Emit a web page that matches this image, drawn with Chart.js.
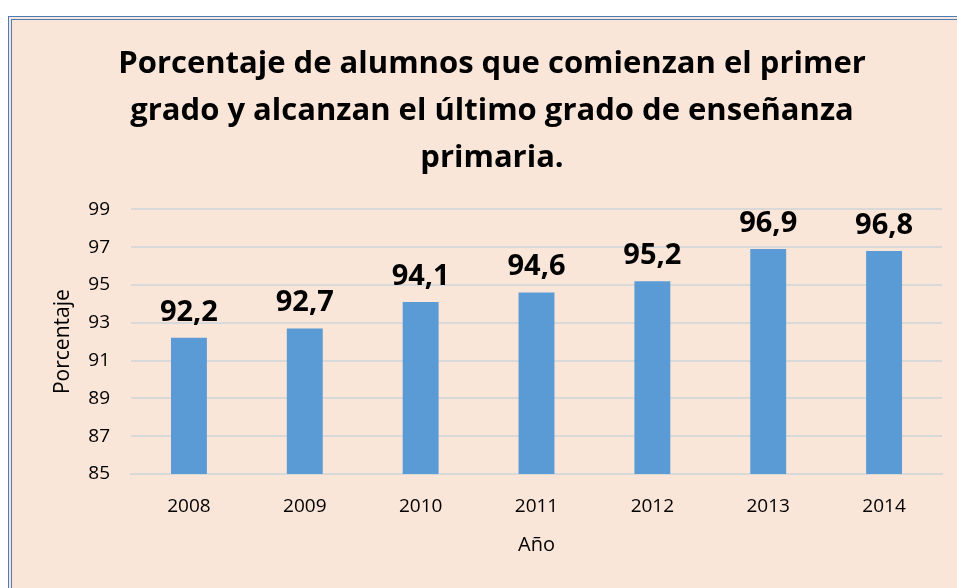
<!DOCTYPE html>
<html>
<head>
<meta charset="utf-8">
<script src="https://cdn.jsdelivr.net/npm/chart.js@4"></script>
<style>
  html, body { margin: 0; padding: 0; background: #fff; width: 957px; height: 588px; overflow: hidden; }
  #frame {
    position: absolute; left: 8px; top: 16px; width: 949px; height: 572px;
    background: #fae5d9;
    border-left: 4px double #4a7ebb; border-top: 4px double #4a7ebb;
    box-sizing: border-box;
  }
  #wrap { position: absolute; left: 12px; top: 20px; width: 945px; height: 568px; }
</style>
</head>
<body>
<div id="frame"></div>
<div id="wrap"><canvas id="chart"></canvas></div>
<script>
// data
const years = ["2008", "2009", "2010", "2011", "2012", "2013", "2014"];
const percentages = [92.2, 92.7, 94.1, 94.6, 95.2, 96.9, 96.8];
const titleLines = [
  "Porcentaje de alumnos que comienzan el primer",
  "grado y alcanzan el último grado de enseñanza",
  "primaria."
];

const FONT = "'Open Sans', 'Noto Sans', sans-serif";

// values above bars, comma decimals
const barLabels = {
  id: "barLabels",
  afterDatasetsDraw(chart) {
    const ctx = chart.ctx;
    const meta = chart.getDatasetMeta(0);
    ctx.save();
    ctx.font = "bold 29px " + FONT;
    ctx.fillStyle = "#000";
    ctx.textAlign = "center";
    ctx.textBaseline = "alphabetic";
    meta.data.forEach((bar, i) => {
      ctx.fillText(percentages[i].toFixed(1).replace(".", ","), bar.x, bar.y - 17);
    });
    ctx.restore();
  }
};

new Chart(document.getElementById("chart"), {
  type: "bar",
  data: {
    labels: years,
    datasets: [{
      data: percentages,
      backgroundColor: "#5b9bd5",
      categoryPercentage: 1,
      barPercentage: 0.31
    }]
  },
  options: {
    responsive: true,
    maintainAspectRatio: false,
    animation: false,
    layout: { padding: { left: 30, right: 15, top: 0, bottom: 10 } },
    plugins: {
      legend: { display: false },
      tooltip: { enabled: false },
      title: {
        display: true,
        text: titleLines,
        color: "#000",
        font: { family: FONT, size: 31, weight: "bold", lineHeight: 1.53 },
        padding: { top: 20, bottom: 27 }
      }
    },
    scales: {
      x: {
        afterFit(scale) { scale.height = 104; },
        grid: { display: false, drawTicks: false },
        border: { color: "#d9d9d9", width: 2 },
        ticks: { color: "#000", font: { family: FONT, size: 19 }, padding: 21 },
        title: { display: true, text: "Año", color: "#000", font: { family: FONT, size: 20, lineHeight: 1.25 }, padding: { top: 20, bottom: 20 } }
      },
      y: {
        afterFit(scale) { scale.width = 89; },
        min: 85, max: 99,
        grid: { color: "#d9d9d9", lineWidth: 2, drawTicks: false },
        border: { display: false },
        ticks: { stepSize: 2, color: "#000", font: { family: FONT, size: 19 }, padding: 21 },
        title: { display: true, text: "Porcentaje", color: "#000", font: { family: FONT, size: 21 }, padding: { top: 8, bottom: 0 } }
      }
    }
  },
  plugins: [barLabels]
});
</script>
</body>
</html>
